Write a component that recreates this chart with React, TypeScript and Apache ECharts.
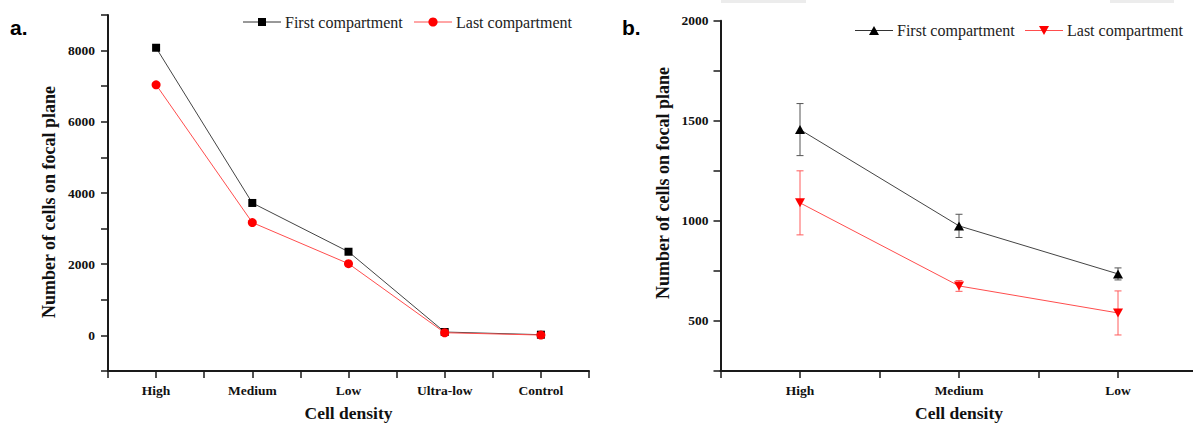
import React, { useEffect, useRef } from "react";
import * as echarts from "echarts";

const categoriesA = ["High", "Medium", "Low", "Ultra-low", "Control"];
const firstA = [8080, 3720, 2350, 95, 20];
const lastA = [7040, 3170, 2015, 75, 10];

const categoriesB = ["High", "Medium", "Low"];
const firstB = [1456, 975, 735];
const firstBErr = [130, 58, 30];
const lastB = [1090, 675, 540];
const lastBErr = [160, 27, 110];

const yTicksA = { min: -1000, max: 9000, step: 1000, labelEvery: 2000 };
const yTicksB = { min: 250, max: 2000, step: 250, labelEvery: 500 };

const seriesNames = ["First compartment", "Last compartment"];
const yTitle = "Number of cells on focal plane";
const xTitle = "Cell density";

const SERIF = '"Liberation Serif", "Times New Roman", serif';

function catFormatter(cats: string[]) {
  return (v: number) => {
    const r = Math.round(v);
    if (Math.abs(v - r) < 1e-6 && r >= 0 && r < cats.length) return cats[r];
    return "";
  };
}

function errData(vals: number[], errs: number[]) {
  return vals.map((v, i) => [i, v - errs[i], v + errs[i]]);
}

function errRender(color: string) {
  return (params: any, api: any) => {
    const x = api.value(0);
    const lo = api.coord([x, api.value(1)]);
    const hi = api.coord([x, api.value(2)]);
    const w = 3.5;
    const st = { stroke: color, lineWidth: 1 };
    return {
      type: "group",
      children: [
        { type: "line", shape: { x1: hi[0], y1: hi[1], x2: lo[0], y2: lo[1] }, style: st },
        { type: "line", shape: { x1: hi[0] - w, y1: hi[1], x2: hi[0] + w, y2: hi[1] }, style: st },
        { type: "line", shape: { x1: lo[0] - w, y1: lo[1], x2: lo[0] + w, y2: lo[1] }, style: st },
      ],
    };
  };
}

export default function App() {
  const ref = useRef<HTMLDivElement>(null);
  useEffect(() => {
    if (!ref.current) return;
    const chart = echarts.init(ref.current, null, { renderer: "svg" });

    const axisLine = { show: true, onZero: false, lineStyle: { color: "#1a1a1a", width: 2 } };
    const axisTick = { show: true, inside: false, length: 7, lineStyle: { color: "#1a1a1a", width: 1.5 } };
    const labelStyle = { fontFamily: SERIF, fontWeight: "bold" as const, fontSize: 13.5, color: "#111" };
    const nameStyle = { fontFamily: SERIF, fontWeight: "bold" as const, fontSize: 17.5, color: "#111" };

    const yFmt = (t: { labelEvery: number }) => (v: number) =>
      Math.abs(v % t.labelEvery) < 1e-6 ? String(v) : "";

    const legendItems = (
      x0: number,
      y: number,
      textW: number,
      sym1: any,
      sym2: any
    ) => {
      const lineLen = 38;
      const gap = 4;
      const x1 = x0 + lineLen + gap;
      const x2 = x1 + textW + 5;
      const x3 = x2 + lineLen + gap;
      return [
        { type: "line", shape: { x1: x0, y1: y, x2: x0 + lineLen, y2: y }, style: { stroke: "#333", lineWidth: 1 } },
        sym1(x0 + lineLen / 2, y),
        { type: "text", x: x1, y: y, style: { text: seriesNames[0], font: `16px ${SERIF}`, fill: "#222", align: "left", verticalAlign: "middle" } },
        { type: "line", shape: { x1: x2, y1: y, x2: x2 + lineLen, y2: y }, style: { stroke: "#ff4d4d", lineWidth: 1 } },
        sym2(x2 + lineLen / 2, y),
        { type: "text", x: x3, y: y, style: { text: seriesNames[1], font: `16px ${SERIF}`, fill: "#222", align: "left", verticalAlign: "middle" } },
      ];
    };

    const yTitleText = (cx: number, cy: number) => ({
      type: "text", x: cx, y: cy, rotation: Math.PI / 2,
      style: { text: yTitle, font: `bold 18px ${SERIF}`, fill: "#111", align: "center", verticalAlign: "middle" },
    });

    const sq = (cx: number, cy: number) => ({ type: "rect", shape: { x: cx - 4, y: cy - 4, width: 8, height: 8 }, style: { fill: "#000" } });
    const circ = (cx: number, cy: number) => ({ type: "circle", shape: { cx, cy, r: 4.6 }, style: { fill: "#ff0000" } });
    const triUp = (cx: number, cy: number) => ({ type: "polygon", shape: { points: [[cx - 5, cy + 4.5], [cx + 5, cy + 4.5], [cx, cy - 4.5]] }, style: { fill: "#000" } });
    const triDown = (cx: number, cy: number) => ({ type: "polygon", shape: { points: [[cx - 5, cy - 4.5], [cx + 5, cy - 4.5], [cx, cy + 4.5]] }, style: { fill: "#ff0000" } });

    const option: any = {
      animation: false,
      backgroundColor: "#ffffff",
      grid: [
        { left: 108, top: 15, width: 481, height: 356, containLabel: false, outerBoundsMode: "none" },
        { left: 720.5, top: 20.7, width: 477, height: 350.3, containLabel: false, outerBoundsMode: "none" },
      ],
      xAxis: [
        {
          type: "value", gridIndex: 0, min: -0.5, max: categoriesA.length - 0.5, interval: 0.5,
          splitLine: { show: false }, axisLine, axisTick,
          axisLabel: { ...labelStyle, margin: 12, formatter: catFormatter(categoriesA), showMinLabel: true, showMaxLabel: true },
          name: xTitle, nameLocation: "middle", nameGap: 33, nameTextStyle: nameStyle,
        },
        {
          type: "value", gridIndex: 1, min: -0.5, max: categoriesB.length - 0.5, interval: 0.5,
          splitLine: { show: false }, axisLine, axisTick,
          axisLabel: { ...labelStyle, margin: 12, formatter: catFormatter(categoriesB) },
          name: xTitle, nameLocation: "middle", nameGap: 33, nameTextStyle: nameStyle,
        },
      ],
      yAxis: [
        {
          type: "value", gridIndex: 0, min: yTicksA.min, max: yTicksA.max, interval: yTicksA.step,
          splitLine: { show: false }, axisLine, axisTick,
          axisLabel: { ...labelStyle, margin: 13, formatter: yFmt(yTicksA) },
        },
        {
          type: "value", gridIndex: 1, min: yTicksB.min, max: yTicksB.max, interval: yTicksB.step,
          splitLine: { show: false }, axisLine, axisTick,
          axisLabel: { ...labelStyle, margin: 12, formatter: yFmt(yTicksB) },
        },
      ],
      series: [
        {
          name: seriesNames[0], type: "line", xAxisIndex: 0, yAxisIndex: 0,
          data: firstA.map((v, i) => [i, v]),
          symbol: "rect", symbolSize: 8, showSymbol: true,
          lineStyle: { color: "#444", width: 1 }, itemStyle: { color: "#000" }, z: 3,
        },
        {
          name: seriesNames[1], type: "line", xAxisIndex: 0, yAxisIndex: 0,
          data: lastA.map((v, i) => [i, v]),
          symbol: "circle", symbolSize: 9, showSymbol: true,
          lineStyle: { color: "#ff4d4d", width: 1 }, itemStyle: { color: "#ff0000" }, z: 4,
        },
        {
          name: seriesNames[0] + " error", type: "custom", xAxisIndex: 1, yAxisIndex: 1,
          data: errData(firstB, firstBErr), encode: { x: 0, y: [1, 2] },
          renderItem: errRender("#555"), z: 1,
        },
        {
          name: seriesNames[1] + " error", type: "custom", xAxisIndex: 1, yAxisIndex: 1,
          data: errData(lastB, lastBErr), encode: { x: 0, y: [1, 2] },
          renderItem: errRender("#ff5c5c"), z: 1,
        },
        {
          name: seriesNames[0] + " ", type: "line", xAxisIndex: 1, yAxisIndex: 1,
          data: firstB.map((v, i) => [i, v]),
          symbol: "triangle", symbolSize: [10, 9], showSymbol: true,
          lineStyle: { color: "#444", width: 1 }, itemStyle: { color: "#000" }, z: 3,
        },
        {
          name: seriesNames[1] + " ", type: "line", xAxisIndex: 1, yAxisIndex: 1,
          data: lastB.map((v, i) => [i, v]),
          symbol: "triangle", symbolRotate: 180, symbolSize: [10, 9], showSymbol: true,
          lineStyle: { color: "#ff4d4d", width: 1 }, itemStyle: { color: "#ff0000" }, z: 4,
        },
      ],
      graphic: [
        { type: "rect", shape: { x: 721, y: 0, width: 85, height: 3 }, style: { fill: "#ececec" }, silent: true },
        { type: "rect", shape: { x: 1110, y: 0, width: 64, height: 3 }, style: { fill: "#ececec" }, silent: true },
        { type: "text", x: 10, y: 27, style: { text: "a.", font: 'bold 21px "Liberation Sans", Arial, sans-serif', fill: "#000", align: "left", verticalAlign: "middle" } },
        { type: "text", x: 622, y: 27, style: { text: "b.", font: 'bold 21px "Liberation Sans", Arial, sans-serif', fill: "#000", align: "left", verticalAlign: "middle" } },
        yTitleText(49, 202),
        yTitleText(663, 183),
        ...legendItems(243, 22, 124, sq, circ),
        ...legendItems(855, 30.5, 123, triUp, triDown),
      ],
    };
    chart.setOption(option);
    return () => chart.dispose();
  }, []);

  return (
    <div style={{ position: "fixed", left: 0, top: 0, width: 1193, height: 423, overflow: "hidden", background: "#fff" }}>
      <div ref={ref} style={{ width: 1200, height: 423 }} />
    </div>
  );
}
